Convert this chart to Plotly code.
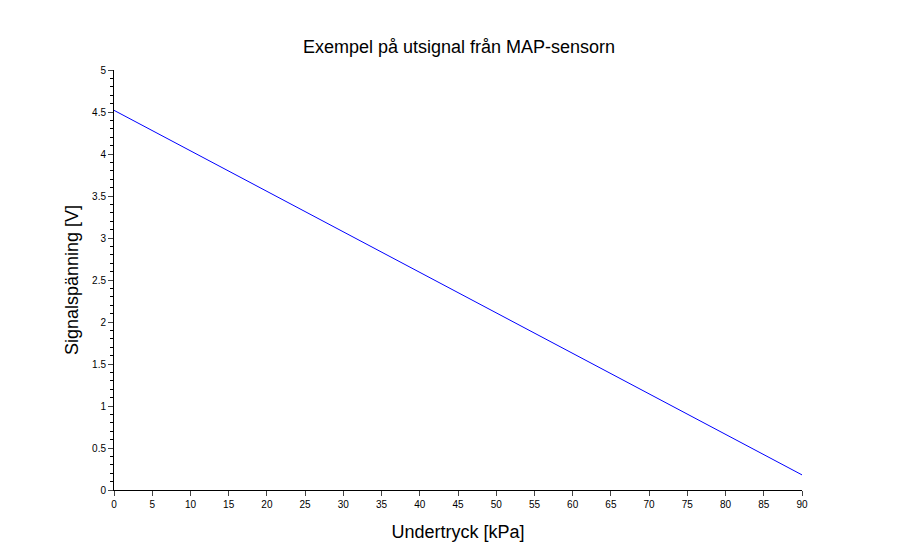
import plotly.graph_objects as go

pressure_kpa = [0, 90]
voltage_v = [4.52, 0.18]

x_ticks = list(range(0, 95, 5))
y_ticks = [0, 0.5, 1, 1.5, 2, 2.5, 3, 3.5, 4, 4.5, 5]
y_labels = ["0", "0.5", "1", "1.5", "2", "2.5", "3", "3.5", "4", "4.5", "5"]

fig = go.Figure()
fig.add_trace(go.Scatter(x=pressure_kpa, y=voltage_v, mode="lines",
                         line=dict(color="#0000ff", width=1), showlegend=False))

fig.update_layout(
    width=918, height=560,
    margin=dict(l=114, r=116, t=70, b=70),
    paper_bgcolor="white", plot_bgcolor="white",
    font=dict(family="Liberation Sans, Arial, sans-serif", color="black"),
    title=dict(text="Exempel på utsignal från MAP-sensorn", x=0.5, xanchor="center",
               y=1 - 47 / 560, yanchor="middle", font=dict(size=18)),
)
fig.update_xaxes(range=[0, 90], tickvals=x_ticks, ticks="outside", ticklen=5,
                 showline=True, linecolor="black", linewidth=1, showgrid=False,
                 zeroline=False, tickfont=dict(size=10),
                 title=dict(text="Undertryck [kPa]", font=dict(size=18), standoff=16))
fig.update_yaxes(range=[0, 5], tickvals=y_ticks, ticktext=y_labels, ticks="outside", ticklen=5,
                 showline=True, linecolor="black", linewidth=1, showgrid=False,
                 zeroline=False, tickfont=dict(size=10),
                 minor=dict(dtick=0.1, ticks="outside", ticklen=3, tickcolor="black", showgrid=False),
                 title=dict(text="Signalspänning [V]", font=dict(size=18), standoff=8))

fig.write_html("out.html")
